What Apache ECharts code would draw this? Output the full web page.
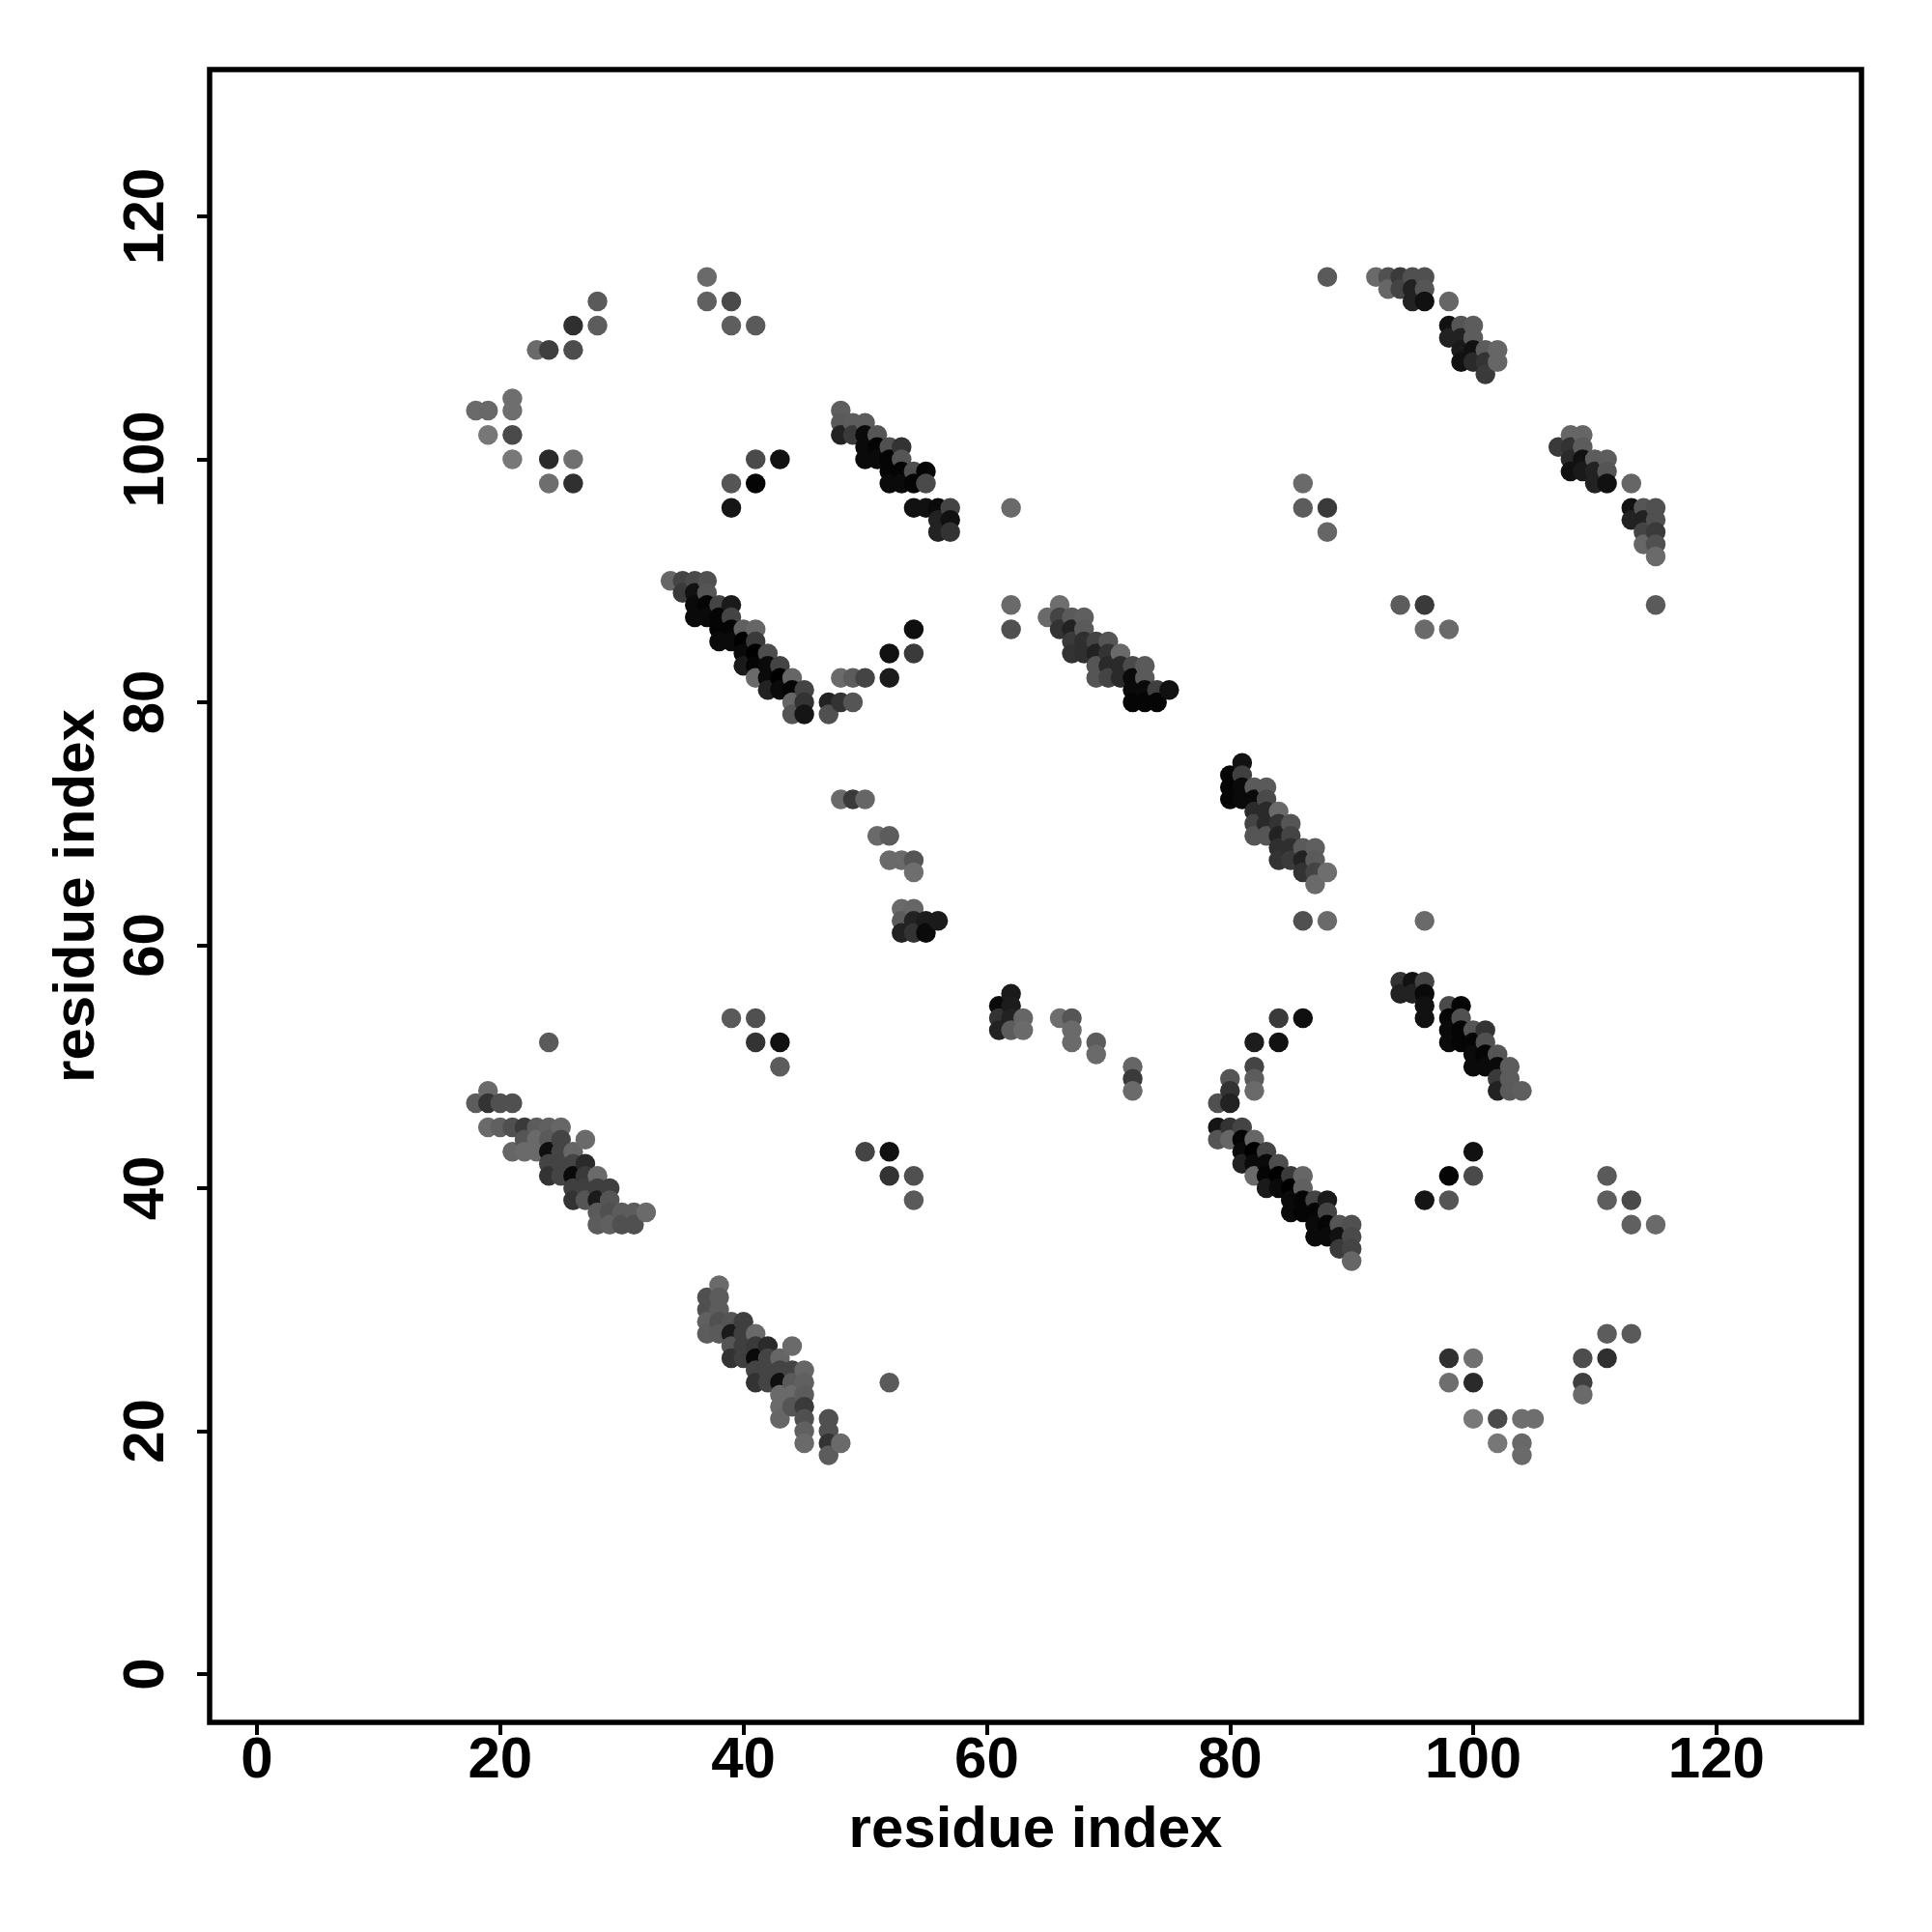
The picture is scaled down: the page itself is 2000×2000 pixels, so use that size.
<!DOCTYPE html>
<html>
<head>
<meta charset="utf-8">
<style>html,body{margin:0;padding:0;background:#fff}#c{width:2000px;height:2000px}</style>
<script src="https://cdn.jsdelivr.net/npm/echarts@6/dist/echarts.min.js"></script>
</head>
<body>
<div id="c"></div>
<script>
const axisTitle = "residue index";
const tickValues = [0,20,40,60,80,100,120];
// Each contact is [residue x, residue y, grey level]
const strandA = [[28,113,90],[26,111,47],[28,111,92],[23,109,106],[24,109,63],[26,109,77],[21,105,110],[21,104,110],[18,104,106],[19,104,104],[19,102,119],[21,102,74],[21,100,120],[24,100,42],[26,100,112],[24,98,110],[26,98,48]];
const strandAm = [[113,28,90],[111,26,47],[111,28,92],[109,23,106],[109,24,63],[109,26,77],[105,21,110],[104,21,110],[104,18,106],[104,19,104],[102,19,119],[102,21,74],[100,21,120],[100,24,42],[100,26,112],[98,24,110],[98,26,48]];
const strandB = [[37,115,106],[37,113,96],[39,113,74],[39,111,94],[41,111,90],[41,100,74],[43,100,17],[39,98,85],[41,98,5],[39,96,21]];
const strandBm = [[115,37,106],[113,37,96],[113,39,74],[111,39,94],[111,41,90],[100,41,74],[100,43,17],[98,39,85],[98,41,5],[96,39,21]];
const helixC = [[34,90,102],[35,90,68],[36,90,74],[37,90,80],[35,89,58],[36,89,17],[37,89,85],[36,88,10],[37,88,5],[38,88,68],[39,88,26],[36,87,10],[37,87,10],[38,87,5],[39,87,68],[38,86,5],[39,86,5],[40,86,96],[41,86,102],[38,85,10],[39,85,10],[40,85,0],[41,85,58],[40,84,10],[41,84,0],[42,84,77],[40,83,26],[41,83,5],[42,83,10],[43,83,68],[41,82,106],[42,82,10],[43,82,0],[44,82,102],[42,81,34],[43,81,10],[44,81,5],[45,81,68],[44,80,102],[45,80,51],[44,79,85],[45,79,21],[47,80,34],[48,80,51],[49,80,85],[47,79,80],[48,82,106],[49,82,92],[50,82,68],[52,82,28],[52,84,17],[54,84,58],[54,86,15]];
const helixCm = [[90,34,102],[90,35,68],[90,36,74],[90,37,80],[89,35,58],[89,36,17],[89,37,85],[88,36,10],[88,37,5],[88,38,68],[88,39,26],[87,36,10],[87,37,10],[87,38,5],[87,39,68],[86,38,5],[86,39,5],[86,40,96],[86,41,102],[85,38,10],[85,39,10],[85,40,0],[85,41,58],[84,40,10],[84,41,0],[84,42,77],[83,40,26],[83,41,5],[83,42,10],[83,43,68],[82,41,106],[82,42,10],[82,43,0],[82,44,102],[81,42,34],[81,43,10],[81,44,5],[81,45,68],[80,44,102],[80,45,51],[79,44,85],[79,45,21],[80,47,34],[80,48,51],[80,49,85],[79,47,80],[82,48,106],[82,49,92],[82,50,68],[82,52,28],[84,52,17],[84,54,58],[86,54,15]];
const loopD = [[48,72,106],[49,72,58],[50,72,102],[51,69,106],[52,69,92],[52,67,106],[53,67,106],[54,67,85],[54,66,110],[53,63,106],[54,63,102],[53,62,92],[54,62,34],[55,62,28],[56,62,26],[53,61,34],[54,61,51],[55,61,10]];
const loopDm = [[72,48,106],[72,49,58],[72,50,102],[69,51,106],[69,52,92],[67,52,106],[67,53,106],[67,54,85],[66,54,110],[63,53,106],[63,54,102],[62,53,92],[62,54,34],[62,55,28],[62,56,26],[61,53,34],[61,54,51],[61,55,10]];
const helixE = [[48,104,94],[48,103,90],[49,103,92],[50,103,92],[48,102,34],[49,102,58],[50,102,10],[51,102,85],[50,101,10],[51,101,5],[52,101,80],[53,101,51],[50,100,10],[51,100,10],[52,100,5],[53,100,85],[52,99,5],[53,99,5],[54,99,80],[55,99,5],[52,98,10],[53,98,10],[54,98,5],[55,98,74],[54,96,17],[55,96,17],[56,96,10],[57,96,68],[56,95,34],[57,95,17],[56,94,34],[57,94,51]];
const helixEm = [[104,48,94],[103,48,90],[103,49,92],[103,50,92],[102,48,34],[102,49,58],[102,50,10],[102,51,85],[101,50,10],[101,51,5],[101,52,80],[101,53,51],[100,50,10],[100,51,10],[100,52,5],[100,53,85],[99,52,5],[99,53,5],[99,54,80],[99,55,5],[98,52,10],[98,53,10],[98,54,5],[98,55,74],[96,54,17],[96,55,17],[96,56,10],[96,57,68],[95,56,34],[95,57,17],[94,56,34],[94,57,51]];
const helixF = [[66,88,110],[65,87,106],[66,87,68],[67,87,90],[68,87,95],[66,86,51],[67,86,34],[68,86,90],[67,85,58],[68,85,47],[69,85,68],[70,85,85],[67,84,51],[68,84,47],[69,84,34],[70,84,51],[71,84,106],[69,83,85],[70,83,42],[71,83,42],[72,83,74],[73,83,90],[69,82,85],[70,82,68],[71,82,42],[72,82,10],[73,82,90],[72,81,10],[73,81,10],[74,81,63],[75,81,17],[72,80,5],[73,80,5],[74,80,5]];
const helixFm = [[88,66,110],[87,65,106],[87,66,68],[87,67,90],[87,68,95],[86,66,51],[86,67,34],[86,68,90],[85,67,58],[85,68,47],[85,69,68],[85,70,85],[84,67,51],[84,68,47],[84,69,34],[84,70,51],[84,71,106],[83,69,85],[83,70,42],[83,71,42],[83,72,74],[83,73,90],[82,69,85],[82,70,68],[82,71,42],[82,72,10],[82,73,90],[81,72,10],[81,73,10],[81,74,63],[81,75,17],[80,72,5],[80,73,5],[80,74,5]];
const helixG = [[19,48,106],[18,47,92],[19,47,51],[20,47,80],[21,47,80],[19,45,106],[20,45,96],[21,45,80],[22,45,58],[23,45,92],[24,45,96],[25,45,102],[22,44,85],[23,44,106],[24,44,90],[25,44,68],[27,44,106],[21,43,102],[22,43,106],[23,43,106],[24,43,15],[25,43,68],[26,43,102],[24,42,68],[25,42,68],[26,42,68],[27,42,42],[24,41,51],[25,41,68],[26,41,10],[27,41,58],[28,41,106],[26,40,63],[27,40,63],[28,40,63],[29,40,63],[26,39,51],[27,39,85],[28,39,26],[29,39,85],[28,38,90],[29,38,80],[30,38,92],[31,38,92],[32,38,106],[28,37,92],[29,37,96],[30,37,80],[31,37,80]];
const helixGm = [[48,19,106],[47,18,92],[47,19,51],[47,20,80],[47,21,80],[45,19,106],[45,20,96],[45,21,80],[45,22,58],[45,23,92],[45,24,96],[45,25,102],[44,22,85],[44,23,106],[44,24,90],[44,25,68],[44,27,106],[43,21,102],[43,22,106],[43,23,106],[43,24,15],[43,25,68],[43,26,102],[42,24,68],[42,25,68],[42,26,68],[42,27,42],[41,24,51],[41,25,68],[41,26,10],[41,27,58],[41,28,106],[40,26,63],[40,27,63],[40,28,63],[40,29,63],[39,26,51],[39,27,85],[39,28,26],[39,29,85],[38,28,90],[38,29,80],[38,30,92],[38,31,92],[38,32,106],[37,28,92],[37,29,96],[37,30,80],[37,31,80]];
const helixH = [[92,115,106],[93,115,85],[94,115,68],[95,115,85],[96,115,80],[93,114,110],[94,114,68],[95,114,42],[96,114,85],[95,113,34],[96,113,26],[98,113,102],[98,111,21],[99,111,90],[100,111,92],[98,110,34],[99,110,34],[100,110,92],[99,109,26],[100,109,17],[101,109,92],[102,109,102],[99,108,21],[100,108,42],[101,108,51],[102,108,102],[101,107,58],[107,101,63],[108,102,102],[109,102,102],[108,101,51],[109,101,92],[108,100,42],[109,100,17],[110,100,92],[111,100,92],[108,99,17],[109,99,26],[110,99,42],[111,99,85],[110,98,34],[111,98,17],[113,98,102],[113,96,17],[114,96,90],[115,96,80],[113,95,34],[114,95,34],[115,95,80],[114,94,68],[115,94,58],[114,93,102],[115,93,80],[115,92,106]];
const helixHm = [[115,92,106],[115,93,85],[115,94,68],[115,95,85],[115,96,80],[114,93,110],[114,94,68],[114,95,42],[114,96,85],[113,95,34],[113,96,26],[113,98,102],[111,98,21],[111,99,90],[111,100,92],[110,98,34],[110,99,34],[110,100,92],[109,99,26],[109,100,17],[109,101,92],[109,102,102],[108,99,21],[108,100,42],[108,101,51],[108,102,102],[107,101,58],[101,107,63],[102,108,102],[102,109,102],[101,108,51],[101,109,92],[100,108,42],[100,109,17],[100,110,92],[100,111,92],[99,108,17],[99,109,26],[99,110,42],[99,111,85],[98,110,34],[98,111,17],[98,113,102],[96,113,17],[96,114,90],[96,115,80],[95,113,34],[95,114,34],[95,115,80],[94,114,68],[94,115,58],[93,114,102],[93,115,80],[92,115,106]];
const scattered = [[88,115,90],[115,88,90],[86,98,106],[86,96,92],[88,96,58],[88,94,102],[94,88,92],[96,88,58],[96,86,106],[98,86,106],[24,52,90],[52,24,90],[39,54,90],[41,54,80],[41,52,51],[43,52,17],[43,50,92],[50,43,68],[52,43,17],[52,41,51],[54,41,80],[54,39,90],[62,96,106],[62,88,106],[62,86,80],[96,62,106],[88,62,106],[86,62,80]];

const contacts = [].concat(strandA,strandAm,strandB,strandBm,helixC,helixCm,loopD,loopDm,helixE,helixEm,helixF,helixFm,helixG,helixGm,helixH,helixHm,scattered);
// Later points paint over earlier ones: left to right, top to bottom in each column.
const seen = new Map();
contacts.forEach(p => { const k = p[0]+'_'+p[1]; if (!seen.has(k) || p[2] < seen.get(k)[2]) seen.set(k,p); });
const ordered = [...seen.values()].sort((a,b) => a[0]-b[0] || b[1]-a[1]);

const font = '"Liberation Sans", Arial, sans-serif';
const chart = echarts.init(document.getElementById('c'), null, {renderer:'canvas'});
const axisBase = {
  type:'value', name:axisTitle, nameLocation:'middle',
  nameTextStyle:{fontFamily:font,fontWeight:'bold',fontSize:60,color:'#000'},
  splitLine:{show:false}, axisLine:{show:false,onZero:false},
  axisTick:{show:true,length:13,inside:false,lineStyle:{color:'#000',width:4},customValues:tickValues},
};
chart.setOption({
  animation:false,
  backgroundColor:'#fff',
  grid:{left:217,right:73,top:72,bottom:217,show:true,borderColor:'#000',borderWidth:5.5,backgroundColor:'#fff'},
  xAxis:Object.assign({},axisBase,{min:-3.89,max:131.92,nameGap:82,
    axisLabel:{fontFamily:font,fontWeight:'bold',fontSize:60,color:'#000',margin:10,customValues:tickValues,showMinLabel:true,showMaxLabel:true,hideOverlap:false}}),
  yAxis:Object.assign({},axisBase,{min:-3.98,max:132.08,nameGap:107,
    axisLabel:{fontFamily:font,fontWeight:'bold',fontSize:60,color:'#000',margin:35,rotate:90,customValues:tickValues,showMinLabel:true,showMaxLabel:true,hideOverlap:false}}),
  series:[{
    type:'scatter', symbol:'circle', symbolSize:20.5, silent:true, clip:true,
    data:ordered.map(p=>[p[0],p[1],p[2]]),
    itemStyle:{opacity:1,color:p=>{const g=p.value[2];return 'rgb('+g+','+g+','+g+')';}}
  }]
});
</script>
</body>
</html>
